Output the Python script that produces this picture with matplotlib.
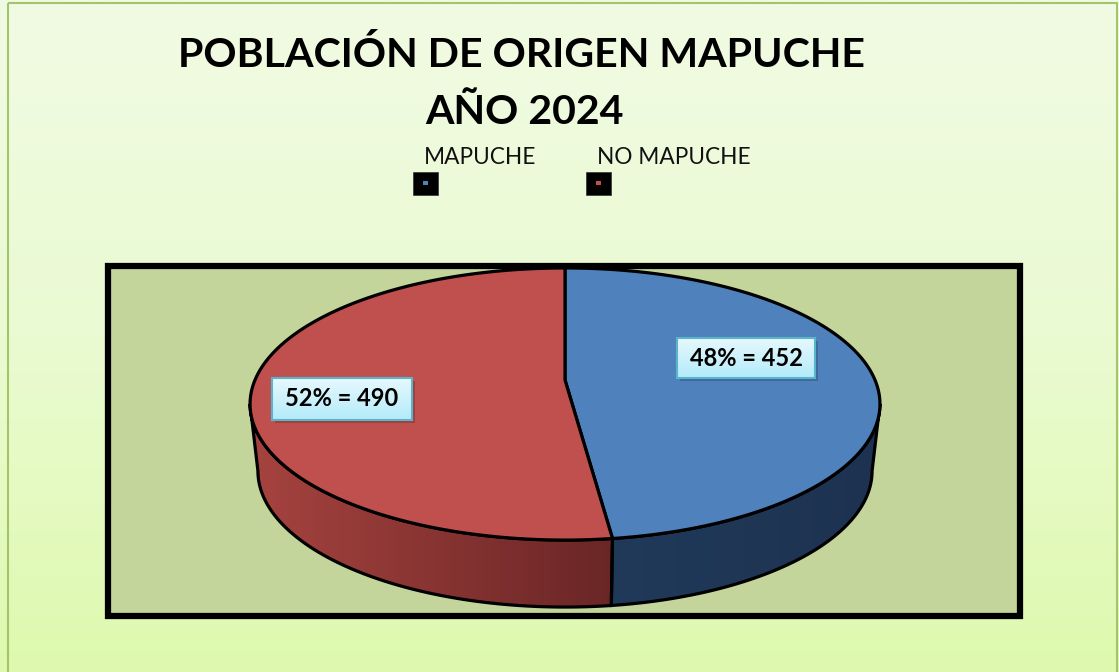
import numpy as np
import matplotlib
matplotlib.use("Agg")
import matplotlib.pyplot as plt
from matplotlib.patches import Polygon, Rectangle
from matplotlib.colors import LinearSegmentedColormap

# ---- data ----
title_lines = ["POBLACIÓN DE ORIGEN MAPUCHE", "AÑO 2024"]
categories = ["MAPUCHE", "NO MAPUCHE"]
values = [452, 490]
percent_labels = ["48%", "52%"]
top_colors = ["#4f81bd", "#c0504d"]
side_colors = [("#213a5a", "#1d3250"), ("#a6433f", "#6a2626")]

W, H = 1119, 672
fig = plt.figure(figsize=(W / 100, H / 100), dpi=100)
ax = fig.add_axes([0, 0, 1, 1])
ax.set_xlim(0, W)
ax.set_ylim(H, 0)
ax.axis("off")

# background gradient
bg = LinearSegmentedColormap.from_list("bg", ["#f1fae3", "#eafbd2", "#def9ae"])
grad = np.linspace(0, 1, 256).reshape(-1, 1)
ax.imshow(grad, cmap=bg, extent=[0, W, H, 0], aspect="auto", zorder=0)
ax.add_patch(Rectangle((8, 3), W - 10, H + 5, fill=False, edgecolor="#a3c46a", lw=1.5, zorder=1))

# plot area
ax.add_patch(Rectangle((108, 266), 912, 350, facecolor="#c4d59b", edgecolor="black", lw=4.5, zorder=2))

# titles
ax.text(522, 55, title_lines[0], ha="center", va="center", fontsize=29.6, fontweight="bold",
        family="Lato", color="black", zorder=5)
ax.text(524, 112, title_lines[1], ha="center", va="center", fontsize=29.6, fontweight="bold",
        family="Lato", color="black", zorder=5)

# legend
leg_x = [413, 586]
for i, cat in enumerate(categories):
    ax.text(leg_x[i] + 11, 158, cat, ha="left", va="center", fontsize=16.3, family="Lato", color="#111111", zorder=5)
    ax.add_patch(Rectangle((leg_x[i], 172), 25, 23, facecolor="black", edgecolor="#333333", lw=0.5, zorder=5))
    ax.add_patch(Rectangle((leg_x[i] + 10, 181), 5, 4, facecolor=top_colors[i], edgecolor="none", zorder=6))

# 3D pie with perspective (projected circle)
cx, cy0 = 565, 380          # projected centre of the pie
alpha_x, beta_y, q = 310, 131.8, 0.1765
depth, shrink = 67, 0.975

total = sum(values)
fracs = [v / total for v in values]
bounds = np.concatenate([[0], np.cumsum(fracs)]) * 2 * np.pi


def pt(t, bottom=False):
    a = np.sin(t)
    b = -np.cos(t)
    h = 1 - q * b
    x = alpha_x * a / h
    y = beta_y * b / h
    if bottom:
        return cx + x * shrink, cy0 + y + depth
    return cx + x, cy0 + y


t_lo = np.arccos(-q)
t_hi = 2 * np.pi - t_lo

# side faces
for i in range(len(values)):
    a0, a1 = bounds[i], bounds[i + 1]
    s0, s1 = max(a0, t_lo), min(a1, t_hi)
    if s1 <= s0:
        continue
    t = np.linspace(s0, s1, 200)
    xt, yt = pt(t)
    xb, yb = pt(t[::-1], bottom=True)
    verts = np.column_stack([np.concatenate([xt, xb]), np.concatenate([yt, yb])])
    ax.add_patch(Polygon(verts, closed=True, facecolor="none", edgecolor="black", lw=2.3, zorder=4))
    cmap = LinearSegmentedColormap.from_list("s%d" % i, list(side_colors[i]))
    xmin, xmax = verts[:, 0].min(), verts[:, 0].max()
    ymin, ymax = verts[:, 1].min(), verts[:, 1].max()
    im = ax.imshow(np.linspace(0, 1, 256).reshape(1, -1), cmap=cmap,
                   extent=[xmin, xmax, ymax, ymin], aspect="auto", zorder=3)
    im.set_clip_path(Polygon(verts, closed=True, transform=ax.transData))

# top faces
for i in range(len(values)):
    t = np.linspace(bounds[i], bounds[i + 1], 300)
    xt, yt = pt(t)
    verts = np.column_stack([np.concatenate([[cx], xt]), np.concatenate([[cy0], yt])])
    ax.add_patch(Polygon(verts, closed=True, facecolor=top_colors[i], edgecolor="black", lw=2.3, zorder=5))

# data labels
label_pos = [(746, 358), (342, 399)]
box_size = [(138, 40), (140, 42)]
box_cmap = LinearSegmentedColormap.from_list("box", ["#e6f8fd", "#b3ebfa"])
for i in range(len(values)):
    lx, ly = label_pos[i]
    bw, bh = box_size[i]
    x0, y0 = lx - bw / 2, ly - bh / 2
    ax.add_patch(Rectangle((x0 + 3, y0 + 3), bw, bh, facecolor="#000000", alpha=0.18, edgecolor="none", zorder=6))
    ax.imshow(np.linspace(0, 1, 64).reshape(-1, 1), cmap=box_cmap,
              extent=[x0, x0 + bw, y0 + bh, y0], aspect="auto", zorder=7)
    ax.add_patch(Rectangle((x0, y0), bw, bh, facecolor="none", edgecolor="#5ab4cc", lw=1.5, zorder=7.5))
    ax.text(lx, ly, f"{percent_labels[i]} = {values[i]}", ha="center", va="center",
            fontsize=17, fontweight="bold", family="Lato", color="black", zorder=8)

ax.set_xlim(0, W)
ax.set_ylim(H, 0)
fig.savefig("out.png", dpi=100)
